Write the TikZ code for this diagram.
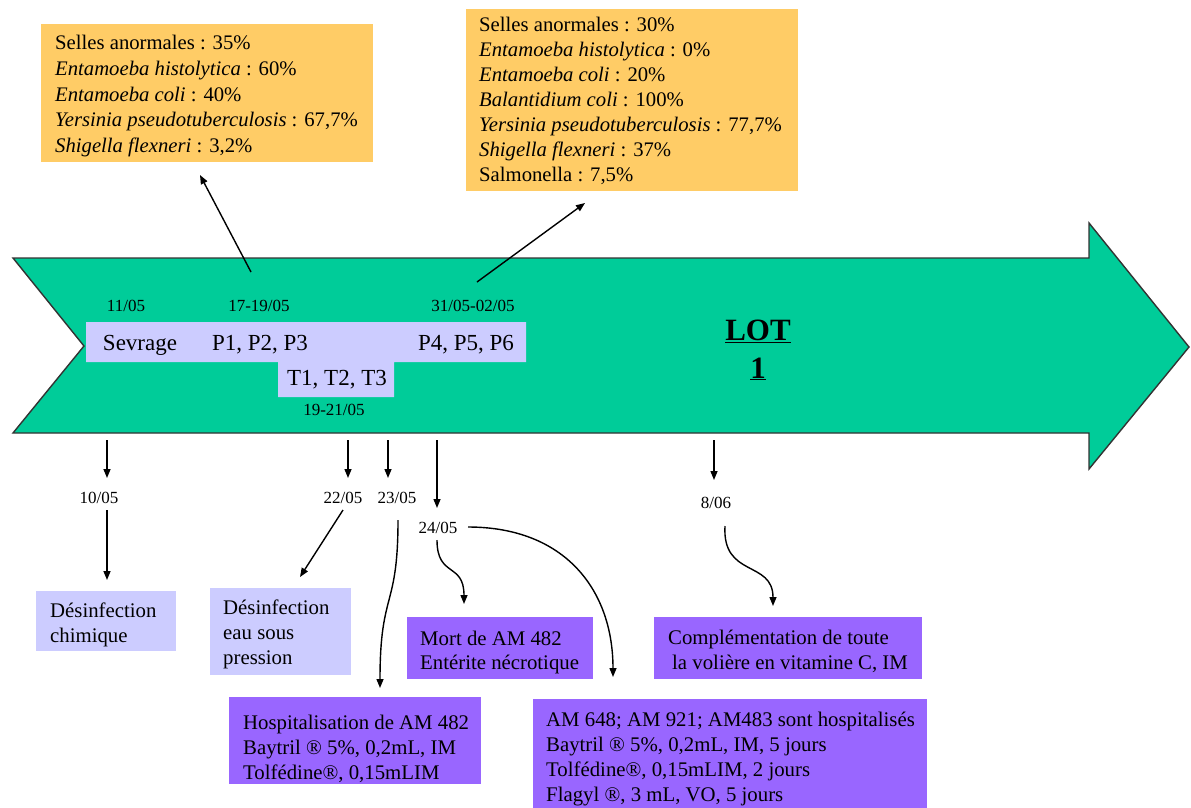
\documentclass[tikz,border=0pt]{standalone}
\usepackage{fontspec}
\setmainfont{Liberation Serif}
\usetikzlibrary{arrows.meta}
\definecolor{arrowgreen}{HTML}{00CC99}
\definecolor{boxorange}{HTML}{FFCC66}
\definecolor{boxlav}{HTML}{CCCCFF}
\definecolor{boxpurple}{HTML}{9966FF}
\tikzset{
  boxbase/.style={anchor=north west, inner sep=0pt, draw=none},
  orangebox/.style={boxbase, fill=boxorange},
  lavbox/.style={boxbase, fill=boxlav},
  purplebox/.style={boxbase, fill=boxpurple},
  txt/.style={anchor=north west, inner sep=0pt, align=left, font=\fontsize{20.8}{25}\selectfont},
  txtorange/.style={txt, font=\fontsize{20.7}{25.8}\selectfont},
  txttopr/.style={txt, font=\fontsize{20.7}{25}\selectfont},
  datelbl/.style={inner sep=0pt, font=\fontsize{17}{19}\selectfont},
  biglbl/.style={inner sep=0pt, font=\fontsize{23}{26}\selectfont},
  conn/.style={line width=1.4pt, -{Triangle[length=9pt,width=7pt]}},
}
\begin{document}
\begin{tikzpicture}[x=1pt,y=-1pt]
\useasboundingbox (0,0) rectangle (1191,807);
\fill[white] (0,0) rectangle (1191,807);

% big arrow
\path[fill=arrowgreen, draw=black!80, line width=1.4pt, line join=miter]
  (13,258) -- (1089,258) -- (1089,223) -- (1189,347) -- (1089,469) -- (1089,433) -- (13,433) -- (84,346) -- cycle;

% lavender band inside arrow
\fill[boxlav] (86,322) -- (526,322) -- (526,362) -- (394,362) -- (394,397) -- (278,397) -- (278,362) -- (86,362) -- cycle;

\node[biglbl] (sevrage) at (140,345) {Sevrage};
\node[biglbl] (p123) at (260,345) {P1, P2, P3};
\node[biglbl] (p456) at (466,345) {P4, P5, P6};
\node[biglbl] (t123) at (337,380) {T1, T2, T3};

\node[datelbl] (d1105) at (126,306) {11/05};
\node[datelbl] (d1719) at (259,306) {17-19/05};
\node[datelbl] (d3102) at (473,306) {31/05-02/05};
\node[datelbl] (d1921) at (334,410) {19-21/05};

\node[inner sep=0pt, font=\bfseries\fontsize{31}{36}\selectfont, align=center] (lot) at (758,350) {\underline{LOT}\\[2pt]\underline{1}};

% top boxes
\node[orangebox, minimum width=332, minimum height=138] (bTL) at (41,24) {};
\node[txtorange] (tTL) at ([shift={(14,11)}]bTL.north west) {Selles anormales : 35\%\\
\textit{Entamoeba histolytica} : 60\%\\
\textit{Entamoeba coli} : 40\%\\
\textit{Yersinia pseudotuberculosis} : 67,7\%\\
\textit{Shigella flexneri} : 3,2\%};

\node[orangebox, minimum width=332, minimum height=182] (bTR) at (466,9) {};
\node[txttopr] (tTR) at ([shift={(13,8)}]bTR.north west) {Selles anormales : 30\%\\
\textit{Entamoeba histolytica} : 0\%\\
\textit{Entamoeba coli} : 20\%\\
\textit{Balantidium coli} : 100\%\\
\textit{Yersinia pseudotuberculosis} : 77,7\%\\
\textit{Shigella flexneri} : 37\%\\
Salmonella : 7,5\%};

\coordinate (sTL) at (251,272);
\coordinate (sTR) at (477,282);
\coordinate (eTL) at (200,175);
\coordinate (eTR) at (585,203);
\draw[conn] (sTL) -- (eTL);
\draw[conn] (sTR) -- (eTR);

% down arrows from the timeline
\coordinate (a1s) at (107,440); \coordinate (a1e) at (107,478);
\coordinate (a2s) at (348,440); \coordinate (a2e) at (348,478);
\coordinate (a3s) at (388,440); \coordinate (a3e) at (388,478);
\coordinate (a4s) at (437,440); \coordinate (a4e) at (437,508);
\coordinate (a5s) at (714,440); \coordinate (a5e) at (714,480);
\foreach \s/\e in {a1s/a1e,a2s/a2e,a3s/a3e,a4s/a4e,a5s/a5e}
  \draw[conn] (\s) -- (\e);

\node[datelbl] (d1005) at (99,498) {10/05};
\node[datelbl] (d2205) at (343,498) {22/05};
\node[datelbl] (d2305) at (397,498) {23/05};
\node[datelbl] (d2405) at (438,528) {24/05};
\node[datelbl] (d0806) at (716,503) {8/06};

% bottom boxes
\node[lavbox, minimum width=140, minimum height=60] (bChim) at (36,591) {};
\node[txt] (tChim) at ([shift={(14,12)}]bChim.north west) {Désinfection\\chimique};

\node[lavbox, minimum width=141, minimum height=87] (bEau) at (210,588) {};
\node[txt] (tEau) at ([shift={(13,12)}]bEau.north west) {Désinfection\\eau sous\\pression};

\node[purplebox, minimum width=252, minimum height=87] (bHosp) at (229,697) {};
\node[txt] (tHosp) at ([shift={(14,18)}]bHosp.north west) {Hospitalisation de AM 482\\
Baytril \textregistered{} 5\%, 0,2mL, IM\\
Tolfédine\textregistered, 0,15mLIM};

\node[purplebox, minimum width=186, minimum height=62] (bMort) at (407,617) {};
\node[txt, font=\fontsize{20.8}{23.5}\selectfont] (tMort) at ([shift={(13,14)}]bMort.north west) {Mort de AM 482\\Entérite nécrotique};

\node[purplebox, minimum width=268, minimum height=62] (bComp) at (654,617) {};
\node[txt, font=\fontsize{20.8}{24.5}\selectfont] (tComp) at ([shift={(14,13)}]bComp.north west) {Complémentation de toute\\\hspace*{4pt}la volière en vitamine C, IM};

\node[purplebox, minimum width=394, minimum height=110] (bAM) at (533,699) {};
\node[txt] (tAM) at ([shift={(13,13)}]bAM.north west) {AM 648; AM 921; AM483 sont hospitalisés\\
Baytril \textregistered{} 5\%, 0,2mL, IM, 5 jours\\
Tolfédine\textregistered, 0,15mLIM, 2 jours\\
Flagyl \textregistered, 3 mL, VO, 5 jours};

% connectors from date labels to boxes
\coordinate (c1s) at (107,510); \coordinate (c1e) at (107,580);
\draw[conn] (c1s) -- (c1e);
\coordinate (c2s) at (343,510); \coordinate (c2e) at (300,577);
\draw[conn] (c2s) -- (c2e);
\coordinate (c3s) at (398,520); \coordinate (c3e) at (380,688);
\draw[conn] (c3s) .. controls (398,610) and (380,590) .. (c3e);
\coordinate (c4s) at (437,540); \coordinate (c4e) at (464,604);
\draw[conn] (c4s) .. controls (437,578) and (464,562) .. (c4e);
\coordinate (c5s) at (468,527); \coordinate (c5e) at (613,677);
\draw[conn] (c5s) .. controls (565,527) and (613,590) .. (c5e);
\coordinate (c6s) at (725,526); \coordinate (c6e) at (773,606);
\draw[conn] (c6s) .. controls (722,578) and (773,560) .. (c6e);
\end{tikzpicture}
\end{document}
